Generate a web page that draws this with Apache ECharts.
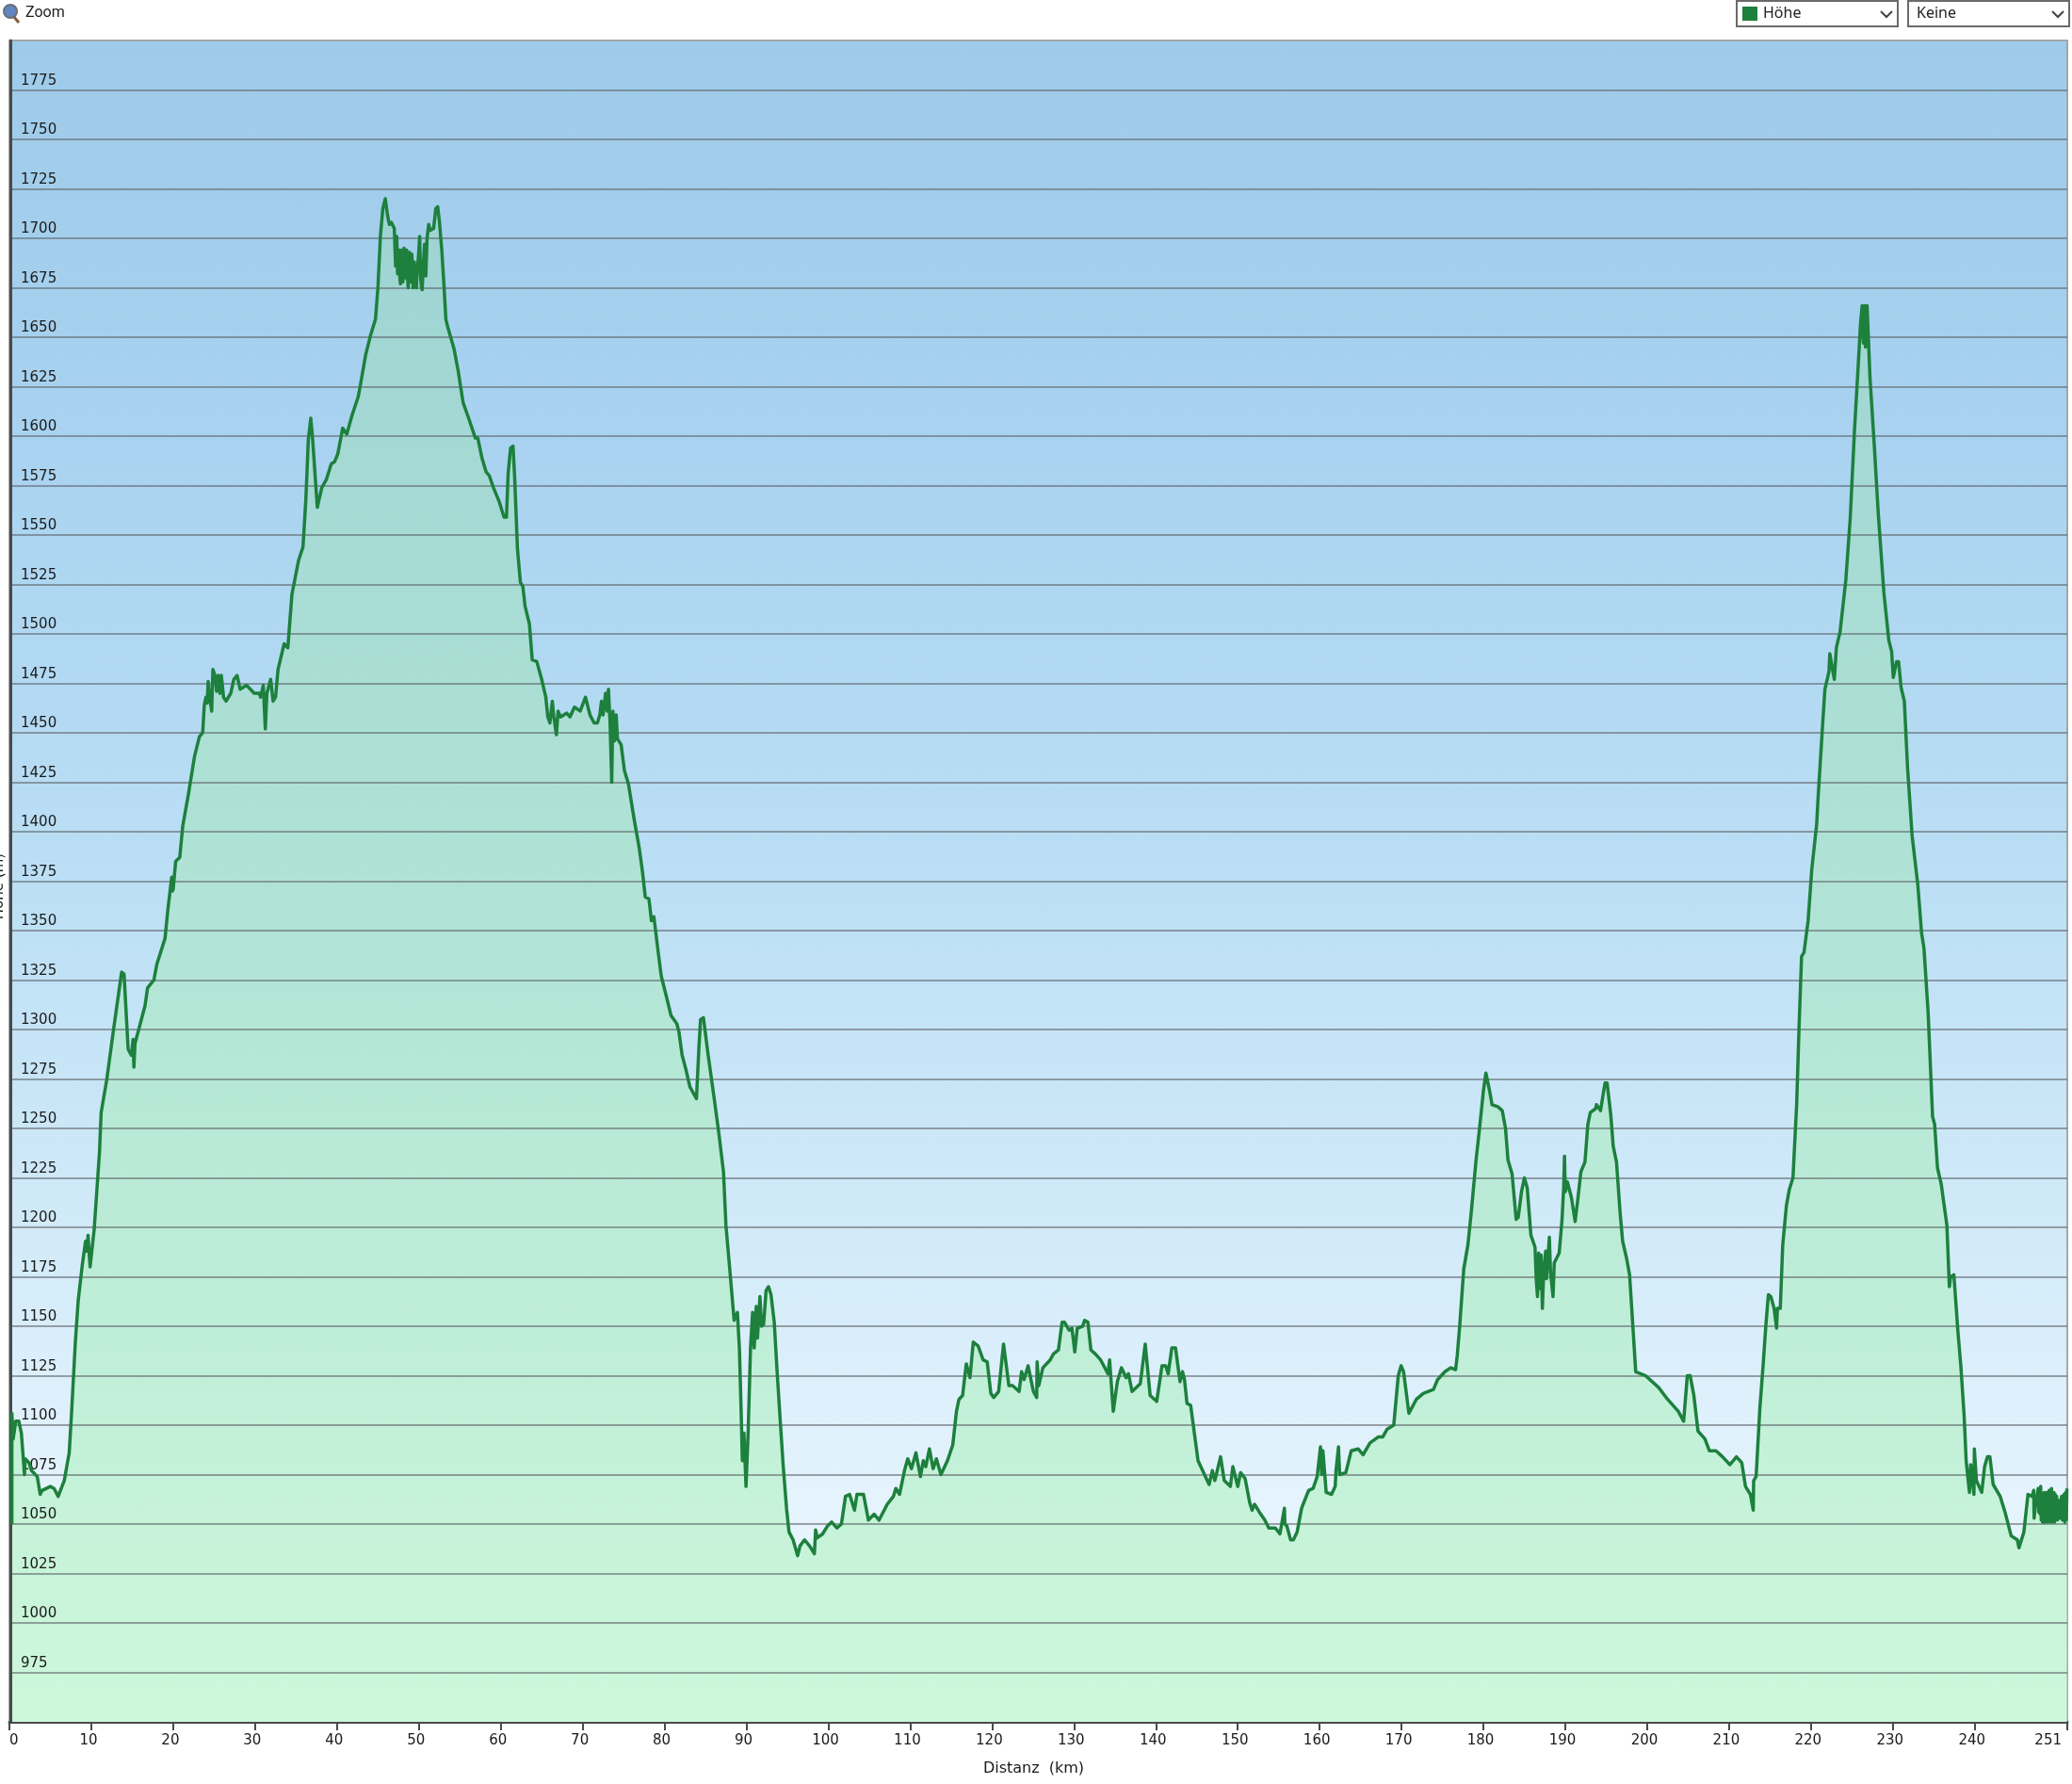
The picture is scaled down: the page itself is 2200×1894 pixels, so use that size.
<!DOCTYPE html>
<html>
<head>
<meta charset="utf-8">
<title>Höhenprofil</title>
<style>
  html, body { margin: 0; padding: 0; background: #fff; }
  #chart { width: 2200px; height: 1894px; }
</style>
<script src="https://cdn.jsdelivr.net/npm/echarts@6/dist/echarts.min.js"></script>
</head>
<body>
<div id="chart"></div>
<script>
// km / m, same order in both arrays
const distanceKm = [
  0.3, 0.3, 0.46, 0.77, 1.15, 1.46, 1.84, 1.92, 2.4, 2.7, 3.4, 3.76, 4, 5, 5.45, 5.95, 6.7, 7.3, 7.6, 8.05,
  8.4, 8.9, 9.3, 9.45, 9.6, 9.85, 10, 10.35, 10.7, 11, 11.2, 11.9, 12.65, 13.7, 14, 14.5, 14.9, 15.1, 15.2, 15.34,
  16.56, 16.87, 17.25, 17.64, 18, 19, 19.36, 19.82, 19.9, 20, 20.3, 20.8, 21.17, 21.86, 22.6, 23.2, 23.6, 23.8, 24, 24.15,
  24.27, 24.46, 24.7, 24.85, 25.1, 25.3, 25.5, 25.7, 25.88, 26.15, 26.46, 27.03, 27.4, 27.8, 28.18, 28.95, 29.9, 30.5, 30.67, 31,
  31.25, 31.44, 31.9, 32.2, 32.5, 32.8, 33.55, 34, 34.5, 35.3, 35.85, 36.2, 36.5, 36.8, 37, 37.6, 38.15, 38.7, 39.3, 39.7,
  40.1, 40.7, 41.2, 41.8, 42.6, 42.95, 43.5, 44.1, 44.7, 45, 45.3, 45.6, 45.9, 46.2, 46.4, 46.65, 47,
  47.16, 47.25, 47.3, 47.4, 47.48, 47.6, 47.68, 47.75, 47.83, 47.9, 47.98, 48.05, 48.12, 48.2, 48.3, 48.4, 48.45, 48.5, 48.6, 48.7,
  48.78, 48.85, 48.92, 49, 49.08, 49.15, 49.22, 49.3, 49.38, 49.45, 49.58, 49.7, 49.78, 49.88, 50, 50.1, 50.2, 50.3, 50.4, 50.55, 50.7, 50.85,
  51, 51.2, 51.4, 51.8, 52.07, 52.3, 52.5, 52.8, 53.07, 53.3, 53.6, 54.3, 54.8, 55.4, 56, 56.9, 57.2, 57.7, 58.2,
  58.6, 59.1, 59.8, 60.4, 60.7, 60.9, 61.2, 61.5, 61.7, 62.04, 62.4, 62.7, 62.97, 63.5, 63.84, 64.4, 65, 65.5, 65.75, 66,
  66.3, 66.45, 66.8, 67, 67.3, 68.06, 68.45, 69, 69.7, 70.35, 70.9, 71.4, 71.8, 72.1, 72.3, 72.5, 72.8, 73, 73.15, 73.35,
  73.55, 73.7, 73.9, 74.1, 74.25, 74.7, 75.1, 75.6, 76.3, 76.9, 77.3, 77.65, 78.1, 78.4, 78.7, 79.2, 79.6, 80.15, 80.8, 81.5,
  81.75, 82.15, 82.6, 83.1, 83.9, 84.2, 84.4, 84.75, 85.3, 86.1, 86.65, 87.2, 87.5, 87.9, 88.5, 88.9, 89.15, 89.4, 89.5, 89.7,
  89.95, 90.2, 90.5, 90.75, 90.95, 91.2, 91.35, 91.65, 91.85, 92.1, 92.4, 92.7, 93, 93.4, 93.75, 94.15, 94.5, 94.9, 95.2, 95.7,
  96.25, 96.55, 97.1, 97.7, 98.3, 98.45, 98.65, 99.3, 99.9, 100.4, 101.05, 101.6, 102.1, 102.6, 103.2, 103.5, 104.3, 104.9, 105.6, 106.2,
  107.2, 107.95, 108.25, 108.7, 109.3, 109.7, 110.15, 110.7, 111.25, 111.6, 111.9, 112.35, 112.8, 113.2, 113.75, 114.55, 115.2, 115.65, 115.95, 116.4,
  116.85, 117.3, 117.7, 118.3, 118.9, 119.4, 119.85, 120.2, 120.8, 121.4, 121.6, 122.05, 122.5, 123.3, 123.6, 123.9, 124.4, 125.05, 125.45, 125.5,
  125.7, 126.2, 127.1, 127.5, 128.1, 128.55, 128.85, 129.4, 129.75, 130.1, 130.4, 131.05, 131.3, 131.7, 132.07, 132.6, 133.25, 134.15, 134.35, 134.8,
  135.3, 135.8, 136.35, 136.65, 137.1, 138.1, 138.7, 139.3, 140.1, 140.75, 141.2, 141.5, 141.95, 142.4, 142.95, 143.25, 143.5, 143.8, 144.25, 144.7,
  145.15, 146.5, 146.9, 147.2, 147.9, 148.35, 149.1, 149.4, 150, 150.35, 150.9, 151.45, 151.75, 152.05, 152.65, 153.3, 153.8, 154.6, 155.15, 155.7,
  155.75, 156, 156.45, 156.8, 157.25, 157.8, 158.65, 159.2, 159.7, 160.1, 160.25, 160.4, 160.8, 161.45, 161.9, 162, 162.3, 162.45, 163.2, 163.85,
  164.7, 165.3, 166.15, 167.15, 167.7, 168.25, 169.05, 169.6, 169.95, 170.25, 170.9, 171.8, 172.65, 173.9, 174.4, 175.3, 176, 176.6, 176.8, 177.1,
  177.6, 178.1, 178.5, 179.1, 179.5, 180, 180.3, 180.8, 181.05, 181.75, 182.3, 182.7, 183, 183.5, 184, 184.25, 184.65, 185, 185.35, 185.8,
  186.3, 186.45, 186.6, 186.75, 186.95, 187.05, 187.2, 187.35, 187.6, 187.7, 188.05, 188.2, 188.5, 188.65, 189.25, 189.6, 189.8, 189.9, 190, 190.25,
  190.75, 191.2, 191.55, 191.9, 192.4, 192.75, 193.05, 193.7, 193.8, 194.3, 194.85, 195.1, 195.55, 195.85, 196.25, 196.7, 197, 197.5, 197.85, 198.25,
  198.6, 199.8, 201.4, 202.5, 203.8, 204.45, 204.9, 205.25, 205.7, 206.2, 207.05, 207.6, 208.4, 209.2, 210.1, 210.9, 211.55, 212, 212.6, 212.95,
  213, 213.3, 213.75, 214.15, 214.5, 214.8, 215.1, 215.5, 215.8, 215.9, 216.25, 216.55, 217, 217.35, 217.8, 218.25, 218.55, 218.85, 219.15, 219.65,
  220.1, 220.7, 220.85, 221.45, 221.7, 222.2, 222.3, 222.85, 223.1, 223.55, 224.25, 224.8, 225.3, 225.8, 226.05, 226.25, 226.4, 226.55, 226.65, 226.85,
  227.2, 227.75, 228.2, 228.9, 229.5, 229.85, 230.05, 230.45, 230.7, 231, 231.4, 231.8, 232.35, 233.05, 233.5, 233.8, 234.3, 234.85, 235.1, 235.45,
  235.9, 236.6, 236.9, 237.05, 237.45, 237.95, 238.3, 238.7, 238.95, 239.35, 239.5, 239.9, 239.95, 240.2, 240.85, 241.2, 241.55, 241.85, 242.25, 243.1,
  243.7, 244.45, 245.2, 245.4, 246, 246.5, 247, 247.2, 247.25, 247.4,
  247.6, 247.75, 247.83, 247.9, 247.98, 248.05, 248.12, 248.2, 248.27, 248.33, 248.4, 248.47, 248.55, 248.62, 248.7, 248.77, 248.85, 248.92, 249, 249.08,
  249.15, 249.22, 249.3, 249.37, 249.45, 249.52, 249.6, 249.67, 249.75, 249.83, 249.9, 250, 250.1, 250.2, 250.3, 250.4, 250.5, 250.6, 250.7, 250.8,
  250.9, 251, 251.1, 251.18, 251.25
]
const elevationM = [
  1050, 1106, 1093, 1102, 1102, 1096, 1075, 1083, 1081, 1077, 1074, 1065, 1067, 1069, 1068, 1064, 1072, 1086, 1107, 1142,
  1163, 1181, 1193, 1188, 1196, 1180, 1180, 1199, 1220, 1238, 1258, 1275, 1298, 1329, 1328, 1290, 1287, 1295, 1281, 1293,
  1312, 1321, 1323, 1325, 1333, 1346, 1361, 1377, 1370, 1371, 1385, 1387, 1403, 1419, 1438, 1448, 1450, 1464, 1468, 1465,
  1476, 1468, 1461, 1482, 1479, 1471, 1479, 1470, 1479, 1468, 1466, 1470, 1477, 1479, 1472, 1474, 1470, 1470, 1468, 1474,
  1452, 1470, 1477, 1466, 1468, 1482, 1495, 1493, 1520, 1537, 1544, 1568, 1598, 1609, 1600, 1564, 1574, 1578, 1586, 1587,
  1591, 1604, 1601, 1610, 1620, 1628, 1641, 1651, 1659, 1675, 1701, 1715, 1720, 1711, 1707, 1708, 1705,
  1686, 1694, 1701, 1682, 1690, 1694, 1680, 1677, 1688, 1694, 1684, 1678, 1689, 1695, 1684, 1680, 1689, 1694, 1681, 1675,
  1686, 1693, 1683, 1678, 1687, 1692, 1682, 1675, 1683, 1688, 1680, 1675, 1683, 1687, 1694, 1701, 1681, 1676, 1674, 1687, 1697, 1681,
  1700, 1707, 1704, 1705, 1715, 1716, 1709, 1694, 1676, 1659, 1654, 1644, 1633, 1617, 1610, 1599, 1599, 1589, 1582,
  1580, 1574, 1567, 1559, 1559, 1581, 1594, 1595, 1579, 1543, 1526, 1524, 1514, 1505, 1487, 1486, 1477, 1468, 1458, 1455,
  1466, 1459, 1449, 1461, 1458, 1460, 1458, 1463, 1461, 1468, 1459, 1455, 1455, 1459, 1466, 1459, 1470, 1461, 1472, 1455,
  1425, 1461, 1446, 1459, 1447, 1444, 1431, 1424, 1406, 1392, 1380, 1367, 1366, 1355, 1357, 1340, 1327, 1318, 1307, 1303,
  1299, 1287, 1280, 1271, 1265, 1291, 1305, 1306, 1288, 1264, 1247, 1228, 1201, 1182, 1153, 1157, 1138, 1100, 1082, 1096,
  1069, 1095, 1139, 1157, 1139, 1160, 1144, 1165, 1150, 1151, 1168, 1170, 1166, 1152, 1127, 1101, 1079, 1058, 1046, 1042,
  1034, 1039, 1042, 1039, 1035, 1047, 1043, 1045, 1049, 1051, 1048, 1050, 1064, 1065, 1057, 1065, 1065, 1052, 1055, 1052,
  1060, 1064, 1068, 1065, 1077, 1083, 1078, 1086, 1074, 1082, 1079, 1088, 1078, 1083, 1075, 1082, 1090, 1107, 1113, 1115,
  1131, 1124, 1142, 1140, 1133, 1132, 1116, 1114, 1117, 1141, 1141, 1120, 1120, 1117, 1127, 1123, 1130, 1117, 1114, 1132,
  1120, 1129, 1133, 1136, 1138, 1152, 1152, 1148, 1149, 1137, 1149, 1150, 1153, 1152, 1138, 1136, 1133, 1126, 1133, 1107,
  1122, 1129, 1124, 1126, 1117, 1121, 1141, 1115, 1112, 1130, 1130, 1126, 1139, 1139, 1122, 1127, 1123, 1111, 1110, 1096,
  1082, 1070, 1077, 1072, 1084, 1072, 1069, 1079, 1069, 1076, 1073, 1061, 1057, 1060, 1056, 1052, 1048, 1048, 1045, 1058,
  1050, 1049, 1042, 1042, 1046, 1058, 1067, 1068, 1074, 1089, 1075, 1087, 1066, 1065, 1069, 1077, 1089, 1075, 1076, 1087,
  1088, 1085, 1091, 1094, 1094, 1098, 1100, 1125, 1130, 1127, 1106, 1113, 1116, 1118, 1123, 1127, 1129, 1128, 1135, 1150,
  1179, 1191, 1207, 1234, 1249, 1269, 1278, 1268, 1262, 1261, 1259, 1250, 1234, 1227, 1204, 1205, 1218, 1225, 1220, 1196,
  1190, 1174, 1165, 1187, 1169, 1186, 1159, 1176, 1188, 1174, 1195, 1177, 1165, 1182, 1187, 1204, 1220, 1236, 1218, 1223,
  1215, 1203, 1215, 1228, 1233, 1252, 1258, 1260, 1262, 1259, 1273, 1273, 1257, 1241, 1233, 1207, 1193, 1184, 1176, 1150,
  1127, 1125, 1119, 1113, 1107, 1102, 1125, 1125, 1115, 1097, 1093, 1087, 1087, 1084, 1080, 1084, 1081, 1069, 1065, 1057,
  1072, 1074, 1108, 1130, 1151, 1166, 1165, 1159, 1149, 1159, 1159, 1191, 1211, 1219, 1225, 1262, 1302, 1337, 1339, 1355,
  1381, 1404, 1416, 1456, 1472, 1481, 1490, 1477, 1493, 1501, 1527, 1559, 1602, 1638, 1657, 1666, 1647, 1666, 1645, 1666,
  1630, 1594, 1562, 1521, 1497, 1491, 1478, 1486, 1486, 1473, 1466, 1432, 1398, 1373, 1349, 1341, 1309, 1256, 1252, 1230,
  1222, 1201, 1170, 1175, 1176, 1147, 1130, 1105, 1082, 1066, 1080, 1065, 1088, 1072, 1066, 1079, 1084, 1084, 1070, 1064,
  1056, 1044, 1042, 1038, 1046, 1065, 1064, 1067, 1053, 1059,
  1059, 1068, 1056, 1063, 1055, 1069, 1052, 1064, 1051, 1063, 1055, 1066, 1051, 1062, 1052, 1066, 1051, 1064, 1053, 1067,
  1051, 1062, 1052, 1068, 1051, 1064, 1052, 1066, 1051, 1065, 1053, 1064, 1052, 1062, 1056, 1053, 1060, 1064, 1052, 1058,
  1065, 1051, 1066, 1052, 1068
]
const xTicks = [0, 10, 20, 30, 40, 50, 60, 70, 80, 90, 100, 110, 120, 130, 140, 150, 160, 170, 180, 190, 200, 210, 220, 230, 240, 251.3]

const chart = echarts.init(document.getElementById("chart"))
const profile = distanceKm.map((km, i) => [km, elevationM[i]])
const labelFont = "'DejaVu Sans', Verdana, sans-serif"
const uiFont = "'Noto Sans', 'Open Sans', sans-serif"

chart.setOption({
  animation: false,
  backgroundColor: "#fff",
  grid: {
    show: true,
    left: 10,
    right: 5,
    top: 43,
    bottom: 66,
    outerBoundsMode: "none",
    borderColor: "#a3a8aa",
    borderWidth: 2,
    backgroundColor: new echarts.graphic.LinearGradient(0, 0, 0, 1, [
      { offset: 0, color: "#9ecbe9" },
      { offset: 0.25, color: "#a9d3f0" },
      { offset: 0.5, color: "#bbdff5" },
      { offset: 0.72, color: "#d3ebf9" },
      { offset: 0.88, color: "#e6f4fe" },
      { offset: 1, color: "#e8f6ff" },
    ]),
  },
  xAxis: {
    type: "value",
    min: 0,
    max: 251.3,
    name: "Distanz  (km)",
    nameLocation: "middle",
    nameGap: 42,
    nameTextStyle: { fontFamily: labelFont, fontSize: 16, color: "#1a1a1a", padding: [0, 10, 0, 0] },
    splitLine: { show: false },
    axisLine: { show: true, onZero: false, lineStyle: { color: "#4a4a4a", width: 3 } },
    axisTick: { show: true, customValues: xTicks, length: 9, lineStyle: { color: "#4a4a4a", width: 2 } },
    axisLabel: {
      customValues: xTicks,
      formatter: v => String(Math.floor(v)),
      fontFamily: labelFont,
      fontSize: 15,
      color: "#1a1a1a",
      margin: 13,
      padding: [0, 6, 0, 0],
      alignMinLabel: "left",
      alignMaxLabel: "right",
    },
  },
  yAxis: {
    type: "value",
    min: 950,
    max: 1800,
    interval: 25,
    offset: -1,
    z: 2,
    axisLine: { show: true, lineStyle: { color: "#4a4a4a", width: 3 } },
    axisTick: { show: false },
    axisLabel: {
      inside: true,
      margin: 11,
      showMinLabel: false,
      showMaxLabel: false,
      verticalAlign: "bottom",
      padding: [0, 0, 2, 0],
      formatter: v => String(v),
      fontFamily: labelFont,
      fontSize: 15,
      color: "#1a1a1a",
    },
    splitLine: { show: true, showMinLine: false, showMaxLine: false, lineStyle: { color: "rgba(95,100,105,0.58)", width: 2 } },
  },
  series: [
    {
      // fill goes under the grid lines, the curve goes over them
      type: "line",
      z: 1,
      data: profile,
      symbol: "none",
      lineStyle: { width: 0 },
      areaStyle: {
        origin: "start",
        opacity: 1,
        color: new echarts.graphic.LinearGradient(0, 0, 0, 1, [
          { offset: 0, color: "#9dd3d3" },
          { offset: 0.5, color: "#b2e5d6" },
          { offset: 1, color: "#cdf8da" },
        ]),
      },
      silent: true,
    },
    {
      name: "Höhe",
      type: "line",
      z: 4,
      data: profile,
      symbol: "none",
      sampling: "none",
      lineStyle: { color: "#1d803d", width: 3.5, join: "round" },
    },
  ],
  graphic: [
    // y-achsentitel, im original am linken rand abgeschnitten
    { type: "text", x: -1, y: 941, rotation: Math.PI / 2, style: { text: "Höhe (m)", fontFamily: labelFont, fontSize: 15, fill: "#1a1a1a", align: "center", verticalAlign: "middle" } },
    // lupe + "Zoom" oben links
    { type: "line", shape: { x1: 14, y1: 17, x2: 20, y2: 24 }, style: { stroke: "#8a5a34", lineWidth: 3 } },
    { type: "circle", shape: { cx: 11, cy: 12, r: 7 }, style: { fill: "#5f86bf", stroke: "#6b6f76", lineWidth: 2 } },
    { type: "text", x: 27, y: 14, style: { text: "Zoom", fontFamily: "Roboto, sans-serif", fontSize: 16, fill: "#222", verticalAlign: "middle" } },
    // dropdowns oben rechts
    { type: "rect", shape: { x: 1844, y: 1, width: 171, height: 27 }, style: { fill: "#fff", stroke: "#6a6a6a", lineWidth: 2 } },
    { type: "rect", shape: { x: 1850, y: 7, width: 16, height: 15 }, style: { fill: "#1d803d" } },
    { type: "text", x: 1872, y: 14, style: { text: "Höhe", fontFamily: uiFont, fontSize: 16, fill: "#222", verticalAlign: "middle" } },
    { type: "polyline", shape: { points: [[1997, 12], [2003, 18], [2009, 12]] }, style: { fill: "none", stroke: "#444", lineWidth: 2 } },
    { type: "rect", shape: { x: 2026, y: 1, width: 171, height: 27 }, style: { fill: "#fff", stroke: "#6a6a6a", lineWidth: 2 } },
    { type: "text", x: 2035, y: 14, style: { text: "Keine", fontFamily: uiFont, fontSize: 16, fill: "#222", verticalAlign: "middle" } },
    { type: "polyline", shape: { points: [[2179, 12], [2185, 18], [2191, 12]] }, style: { fill: "none", stroke: "#444", lineWidth: 2 } },
  ],
})

window.addEventListener("resize", () => chart.resize())

if (distanceKm.length !== elevationM.length) console.error("length mismatch", distanceKm.length, elevationM.length)
</script>
</body>
</html>
